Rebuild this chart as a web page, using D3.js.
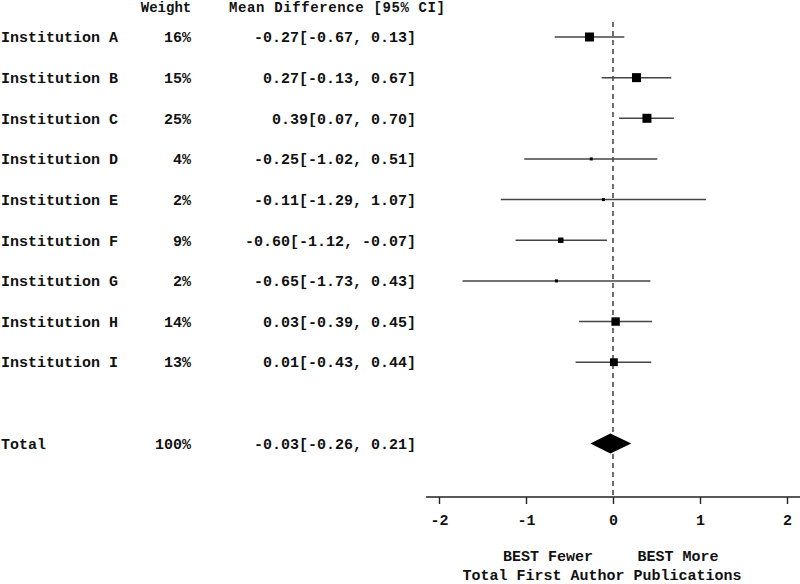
<!DOCTYPE html>
<html>
<head>
<meta charset="utf-8">
<script src="https://cdn.jsdelivr.net/npm/d3@7"></script>
<style>
  body { margin: 0; background: #fff; }
  text { font-family: "Liberation Mono", "Courier New", monospace; font-weight: bold; fill: #111; }
</style>
</head>
<body>
<svg id="chart" width="800" height="584"></svg>
<script>
// study rows
const studies = ["Institution A", "Institution B", "Institution C", "Institution D", "Institution E",
  "Institution F", "Institution G", "Institution H", "Institution I"];
const weights = [16, 15, 25, 4, 2, 9, 2, 14, 13];
const means = [-0.27, 0.27, 0.39, -0.25, -0.11, -0.60, -0.65, 0.03, 0.01];
const lower = [-0.67, -0.13, 0.07, -1.02, -1.29, -1.12, -1.73, -0.39, -0.43];
const upper = [0.13, 0.67, 0.70, 0.51, 1.07, -0.07, 0.43, 0.45, 0.44];

// pooled estimate
const total = { label: "Total", weight: 100, mean: -0.03, lo: -0.26, hi: 0.21 };

const xTicks = [-2, -1, 0, 1, 2];
const xLabelLeft = "BEST Fewer";
const xLabelRight = "BEST More";
const xTitle = "Total First Author Publications";

const svg = d3.select("#chart");

const x = d3.scaleLinear().domain([-2, 2]).range([439, 787]);
// row index -> y, total sits two rows below the last study
const y = d3.scaleLinear().domain([0, 10]).range([37, 443.5]);
const boxSize = d3.scaleLinear().domain([5, 15]).range([3, 9]).clamp(true);

const fmt = d3.format(".2f");
const num = (v) => fmt(v).replace("−", "-");
const ci = (m, l, h) => `${num(m)}[${num(l)}, ${num(h)}]`;

// headers
svg.append("text").attr("x", 166).attr("y", 7).attr("dy", "0.35em").attr("text-anchor", "middle")
  .style("font-size", "14px").text("Weight");
svg.append("text").attr("x", 229).attr("y", 7).attr("dy", "0.35em")
  .style("font-size", "14px").attr("textLength", 216).text("Mean Difference [95% CI]");

const rows = studies.map((s, i) => ({
  label: s, weight: weights[i], mean: means[i], lo: lower[i], hi: upper[i], idx: i
}));

// reference line at zero
svg.append("line")
  .attr("x1", x(0)).attr("x2", x(0))
  .attr("y1", 22).attr("y2", 497)
  .attr("stroke", "#222").attr("stroke-width", 1.3)
  .attr("stroke-dasharray", "5,4");

// text columns
const allRows = rows.concat([{ ...total, idx: 10 }]);
const txt = svg.append("g").style("font-size", "15px");
txt.selectAll(".lab").data(allRows).join("text")
  .attr("x", 1).attr("y", (d) => y(d.idx)).attr("dy", "0.35em")
  .text((d) => d.label);
txt.selectAll(".wt").data(allRows).join("text")
  .attr("x", 191).attr("y", (d) => y(d.idx)).attr("dy", "0.35em")
  .attr("text-anchor", "end")
  .text((d) => d.weight + "%");
txt.selectAll(".md").data(allRows).join("text")
  .attr("x", 416).attr("y", (d) => y(d.idx)).attr("dy", "0.35em")
  .attr("text-anchor", "end")
  .text((d) => ci(d.mean, d.lo, d.hi));

// CI whiskers
svg.append("g").selectAll("line").data(rows).join("line")
  .attr("x1", (d) => x(d.lo)).attr("x2", (d) => x(d.hi))
  .attr("y1", (d) => y(d.idx)).attr("y2", (d) => y(d.idx))
  .attr("stroke", "#444").attr("stroke-width", 1.5);

// point estimates
svg.append("g").selectAll("rect").data(rows).join("rect")
  .attr("x", (d) => x(d.mean) - boxSize(d.weight) / 2)
  .attr("y", (d) => y(d.idx) - boxSize(d.weight) / 2)
  .attr("width", (d) => boxSize(d.weight))
  .attr("height", (d) => boxSize(d.weight))
  .attr("fill", "#000");

// pooled diamond
const ty = y(10);
svg.append("path")
  .attr("d", `M${x(total.lo)},${ty} L${x(total.mean)},${ty - 10} L${x(total.hi)},${ty} L${x(total.mean)},${ty + 10} Z`)
  .attr("fill", "#000");

// x axis
const axis = svg.append("g")
  .attr("transform", "translate(0,497)")
  .call(d3.axisBottom(x).tickValues(xTicks).tickSize(7).tickPadding(10).tickFormat((d) => String(d)));
axis.select(".domain").remove();
axis.selectAll("line").attr("stroke", "#222").attr("stroke-width", 1.4);
axis.selectAll("text").style("font-family", "Liberation Mono, monospace")
  .style("font-size", "15px").style("font-weight", "bold").attr("fill", "#111");
axis.append("line").attr("x1", 426).attr("x2", 800).attr("y1", 0).attr("y2", 0)
  .attr("stroke", "#222").attr("stroke-width", 1.4);

svg.append("text").attr("x", 548).attr("y", 556).attr("dy", "0.35em").attr("text-anchor", "middle")
  .style("font-size", "15px").text(xLabelLeft);
svg.append("text").attr("x", 678).attr("y", 556).attr("dy", "0.35em").attr("text-anchor", "middle")
  .style("font-size", "15px").text(xLabelRight);
svg.append("text").attr("x", 602).attr("y", 575).attr("dy", "0.35em").attr("text-anchor", "middle")
  .style("font-size", "15px").text(xTitle);
</script>
</body>
</html>
